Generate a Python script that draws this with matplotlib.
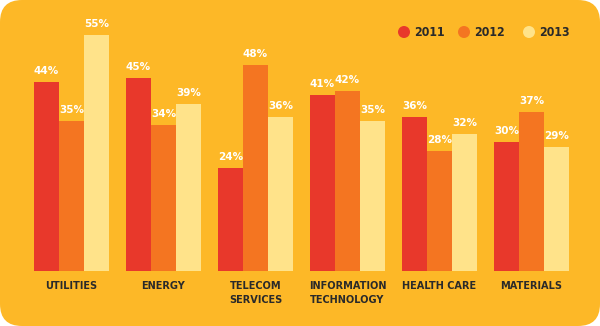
import matplotlib
matplotlib.use('Agg')
import matplotlib.pyplot as plt
from matplotlib import font_manager
from matplotlib.patches import FancyBboxPatch
import numpy as np

categories = ['UTILITIES', 'ENERGY', 'TELECOM\nSERVICES', 'INFORMATION\nTECHNOLOGY', 'HEALTH CARE', 'MATERIALS']
years = ['2011', '2012', '2013']
v2011 = [44, 45, 24, 41, 36, 30]
v2012 = [35, 34, 48, 42, 28, 37]
v2013 = [55, 39, 36, 35, 32, 29]

BG = '#FDB827'
COLORS = ['#E8382B', '#F47521', '#FFE38A']

# pick a condensed face if one is installed
cond_path = None
for f in font_manager.fontManager.ttflist:
    n = (f.fname + f.name).lower()
    if ('condensed' in n or 'narrow' in n) and 'bold' in n and 'oblique' not in n and 'italic' not in n:
        cond_path = f.fname
        break


def cat_font(size):
    if cond_path:
        return dict(fontproperties=font_manager.FontProperties(fname=cond_path, size=size))
    return dict(family='DejaVu Sans', fontsize=size * 0.9, fontweight='bold')


W, H = 600, 326
fig = plt.figure(figsize=(W / 100, H / 100), dpi=100, facecolor='white')
bg = FancyBboxPatch((0, 0), W, H, boxstyle='round,pad=0,rounding_size=22',
                    transform=None, facecolor=BG, edgecolor='none', zorder=-5)
fig.patches.append(bg)

ax = fig.add_axes([0, 0, 1, 1])
ax.set_facecolor('none')
px_per_unit = 92.0
x0 = 71.5
bottom_px = 55
y_scale = 4.29
ax.set_xlim(-x0 / px_per_unit, (W - x0) / px_per_unit)
ax.set_ylim(-bottom_px / y_scale, (H - bottom_px) / y_scale)
ax.axis('off')

bw = 25 / px_per_unit
x = np.arange(len(categories))
for k, vals in enumerate([v2011, v2012, v2013]):
    xs = x + (k - 1) * bw
    ax.bar(xs, vals, width=bw, color=COLORS[k], edgecolor='none')
    for xi, v in zip(xs, vals):
        ax.text(xi, v + 11 / y_scale, f'{v}%', ha='center', va='center',
                color='white', fontsize=7.5, fontweight='bold', family='DejaVu Sans')

for xi, c in zip(x, categories):
    ax.text(xi, -10 / y_scale, c, ha='center', va='top', color='#2a2a2a',
            linespacing=1.45, **cat_font(7.8))

# legend
leg_x = [404, 464, 529]
for lx, yr, col in zip(leg_x, years, COLORS):
    fig.patches.append(plt.Circle((lx, H - 32), 6, transform=None,
                                  facecolor=col, edgecolor='none'))
    fig.text((lx + 10) / W, (H - 32) / H, yr, ha='left', va='center',
             color='#2a2a2a', **cat_font(8.8))

fig.savefig('out.png', dpi=100, facecolor='white')
